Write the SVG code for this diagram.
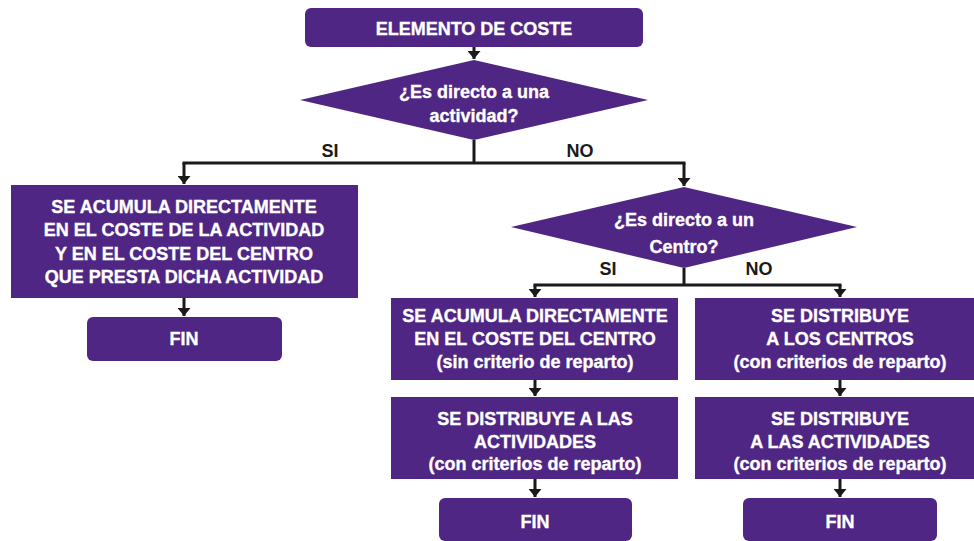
<svg xmlns="http://www.w3.org/2000/svg" width="974" height="541" viewBox="0 0 974 541">
<style>
.box{fill:#4f2683}
.t{fill:#fff;stroke:#fff;stroke-width:0.35;font-family:"Liberation Sans",Arial,sans-serif;font-weight:bold;font-size:18px;text-anchor:middle}
.lbl{fill:#1a1a1a;font-family:"Liberation Sans",Arial,sans-serif;font-weight:bold;font-size:18px;text-anchor:middle}
.c{stroke:#1a1a1a;stroke-width:3;fill:none}
</style>
<defs>
<marker id="ah" markerUnits="userSpaceOnUse" markerWidth="9" markerHeight="13" refX="8" refY="6.5" orient="auto">
<path d="M0,0 L8,6.5 L0,13 z" fill="#1a1a1a"/>
</marker>
</defs>
<rect width="974" height="541" fill="#fff"/>
<g id="connectors">
<path class="c" d="M474,47 V59" marker-end="url(#ah)"/>
<path class="c" d="M474,140 V163"/>
<path class="c" d="M182.5,163 H685.5"/>
<path class="c" d="M184,163 V184" marker-end="url(#ah)"/>
<path class="c" d="M684,163 V186" marker-end="url(#ah)"/>
<path class="c" d="M184,298 V316" marker-end="url(#ah)"/>
<path class="c" d="M684,268 V285"/>
<path class="c" d="M533.5,285 H841.5"/>
<path class="c" d="M535,285 V297" marker-end="url(#ah)"/>
<path class="c" d="M840,285 V297" marker-end="url(#ah)"/>
<path class="c" d="M535,380 V396" marker-end="url(#ah)"/>
<path class="c" d="M840,380 V396" marker-end="url(#ah)"/>
<path class="c" d="M535,479 V497" marker-end="url(#ah)"/>
<path class="c" d="M840,479 V497" marker-end="url(#ah)"/>
<text class="lbl" x="330" y="157">SI</text>
<text class="lbl" x="580" y="157">NO</text>
<text class="lbl" x="608" y="275">SI</text>
<text class="lbl" x="759" y="275">NO</text>
</g>
<g id="n-elemento">
<rect class="box" x="305" y="8" width="338" height="39" rx="6"/>
<text class="t" x="474" y="35">ELEMENTO DE COSTE</text>
</g>
<g id="n-dec1">
<polygon class="box" points="300,100 474,60 648,100 474,140"/>
<text class="t" x="474" y="98">¿Es directo a una</text>
<text class="t" x="474" y="122">actividad?</text>
</g>
<g id="n-acum-act">
<rect class="box" x="11" y="185" width="347" height="113"/>
<text class="t" x="184" y="213">SE ACUMULA DIRECTAMENTE</text>
<text class="t" x="184" y="236">EN EL COSTE DE LA ACTIVIDAD</text>
<text class="t" x="184" y="260">Y EN EL COSTE DEL CENTRO</text>
<text class="t" x="184" y="283">QUE PRESTA DICHA ACTIVIDAD</text>
</g>
<g id="n-fin1">
<rect class="box" x="87" y="317" width="195" height="44" rx="6"/>
<text class="t" x="184" y="345">FIN</text>
</g>
<g id="n-dec2">
<polygon class="box" points="511,227 684,187 857,227 684,268"/>
<text class="t" x="684" y="226">¿Es directo a un</text>
<text class="t" x="684" y="253">Centro?</text>
</g>
<g id="n-acum-centro">
<rect class="box" x="391" y="298" width="287" height="82"/>
<text class="t" x="535" y="322">SE ACUMULA DIRECTAMENTE</text>
<text class="t" x="535" y="345">EN EL COSTE DEL CENTRO</text>
<text class="t" x="535" y="368">(sin criterio de reparto)</text>
</g>
<g id="n-dist-centros">
<rect class="box" x="695" y="298" width="290" height="82"/>
<text class="t" x="840" y="322">SE DISTRIBUYE</text>
<text class="t" x="840" y="345">A LOS CENTROS</text>
<text class="t" x="840" y="368">(con criterios de reparto)</text>
</g>
<g id="n-dist-act1">
<rect class="box" x="391" y="397" width="287" height="82"/>
<text class="t" x="535" y="425">SE DISTRIBUYE A LAS</text>
<text class="t" x="535" y="448">ACTIVIDADES</text>
<text class="t" x="535" y="470">(con criterios de reparto)</text>
</g>
<g id="n-dist-act2">
<rect class="box" x="695" y="397" width="290" height="82"/>
<text class="t" x="840" y="425">SE DISTRIBUYE</text>
<text class="t" x="840" y="448">A LAS ACTIVIDADES</text>
<text class="t" x="840" y="470">(con criterios de reparto)</text>
</g>
<g id="n-fin2">
<rect class="box" x="439" y="498" width="193" height="43" rx="6"/>
<text class="t" x="535" y="528">FIN</text>
</g>
<g id="n-fin3">
<rect class="box" x="743" y="498" width="194" height="43" rx="6"/>
<text class="t" x="840" y="528">FIN</text>
</g>
</svg>
